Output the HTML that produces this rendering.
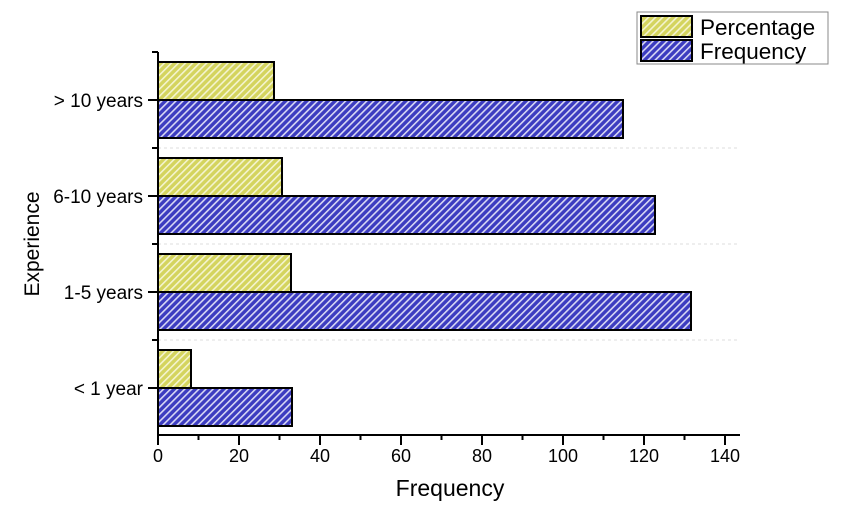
<!DOCTYPE html>
<html><head><style>body{margin:0;background:#fff}svg{display:block}text{font-family:"Liberation Sans",Arial,sans-serif;fill:#000}</style></head>
<body>
<svg width="860" height="521" viewBox="0 0 860 521">
<defs>
<pattern id="py" patternUnits="userSpaceOnUse" width="5" height="5" patternTransform="rotate(45)">
<rect width="5" height="5" fill="#d4d45e"/><rect width="1.6" height="5" fill="#f4f4d0"/></pattern>
<pattern id="pb" patternUnits="userSpaceOnUse" width="5" height="5" patternTransform="rotate(45)">
<rect width="5" height="5" fill="#3c3cc0"/><rect width="1.6" height="5" fill="#d8d8f4"/></pattern>
</defs>
<g stroke="#ddd" stroke-dasharray="3,3" stroke-width="1">
<line x1="158" y1="148" x2="740" y2="148"/><line x1="158" y1="244" x2="740" y2="244"/><line x1="158" y1="340" x2="740" y2="340"/>
</g>
<g stroke="#000" stroke-width="2">
<rect x="158" y="62" width="116" height="38" fill="url(#py)"/>
<rect x="158" y="100" width="465" height="38" fill="url(#pb)"/>
<rect x="158" y="158" width="124" height="38" fill="url(#py)"/>
<rect x="158" y="196" width="497" height="38" fill="url(#pb)"/>
<rect x="158" y="254" width="133" height="38" fill="url(#py)"/>
<rect x="158" y="292" width="533" height="38" fill="url(#pb)"/>
<rect x="158" y="350" width="33" height="38" fill="url(#py)"/>
<rect x="158" y="388" width="134" height="38" fill="url(#pb)"/>
</g>
<g stroke="#000" stroke-width="2">
<line x1="158" y1="52" x2="158" y2="436"/>
<line x1="157" y1="435" x2="740" y2="435"/>
<line x1="148" y1="100" x2="158" y2="100"/><line x1="148" y1="196" x2="158" y2="196"/><line x1="148" y1="292" x2="158" y2="292"/><line x1="148" y1="388" x2="158" y2="388"/>
<line x1="152" y1="52" x2="158" y2="52"/><line x1="152" y1="148" x2="158" y2="148"/><line x1="152" y1="244" x2="158" y2="244"/><line x1="152" y1="340" x2="158" y2="340"/>
<line x1="158" y1="435" x2="158" y2="445"/><line x1="239" y1="435" x2="239" y2="445"/><line x1="320" y1="435" x2="320" y2="445"/><line x1="401" y1="435" x2="401" y2="445"/><line x1="482" y1="435" x2="482" y2="445"/><line x1="563" y1="435" x2="563" y2="445"/><line x1="644" y1="435" x2="644" y2="445"/><line x1="725" y1="435" x2="725" y2="445"/>
<line x1="198.5" y1="435" x2="198.5" y2="440"/><line x1="279.5" y1="435" x2="279.5" y2="440"/><line x1="360.5" y1="435" x2="360.5" y2="440"/><line x1="441.5" y1="435" x2="441.5" y2="440"/><line x1="522.5" y1="435" x2="522.5" y2="440"/><line x1="603.5" y1="435" x2="603.5" y2="440"/><line x1="684.5" y1="435" x2="684.5" y2="440"/>
</g>
<g font-size="18" text-anchor="middle">
<text x="158" y="462">0</text><text x="239" y="462">20</text><text x="320" y="462">40</text><text x="401" y="462">60</text><text x="482" y="462">80</text><text x="563" y="462">100</text><text x="644" y="462">120</text><text x="725" y="462">140</text>
</g>
<g font-size="19" text-anchor="end">
<text x="143" y="107">&gt; 10 years</text><text x="143" y="203">6-10 years</text><text x="143" y="299">1-5 years</text><text x="143" y="395">&lt; 1 year</text>
</g>
<text x="450" y="496" font-size="23" text-anchor="middle">Frequency</text>
<text transform="translate(39,244) rotate(-90)" font-size="21" text-anchor="middle">Experience</text>
<rect x="637" y="12" width="191" height="52" fill="#fff" stroke="#888" stroke-width="1"/>
<rect x="641" y="16" width="51" height="21" fill="url(#py)" stroke="#000" stroke-width="2"/>
<rect x="641" y="40" width="51" height="21" fill="url(#pb)" stroke="#000" stroke-width="2"/>
<text x="700" y="35" font-size="22.5">Percentage</text>
<text x="700" y="59" font-size="22.5">Frequency</text>
</svg>
</body></html>
